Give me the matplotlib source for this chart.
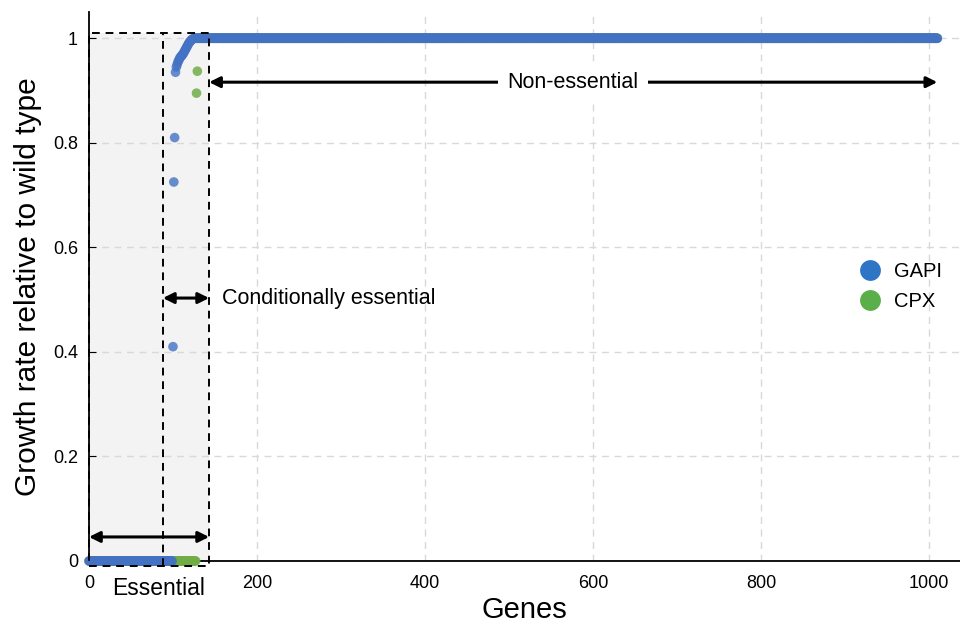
import numpy as np
import matplotlib
matplotlib.use("Agg")
import matplotlib.pyplot as plt
from matplotlib.patches import Rectangle
from matplotlib.lines import Line2D

plt.rcParams["font.family"] = ["Liberation Sans", "DejaVu Sans"]

# ── Data (genes sorted by growth rate) ──
N_GENES = 1011

GAPI_N_ZERO = 100
GAPI_TRANSITION = [0.41, 0.725, 0.81, 0.935, 0.945, 0.950, 0.955, 0.958,
                   0.962, 0.964, 0.966, 0.968, 0.970, 0.973, 0.976, 0.979,
                   0.982, 0.985, 0.988, 0.991, 0.993, 0.995, 0.997, 0.998,
                   0.999]

CPX_N_ZERO = 128
CPX_TRANSITION = [0.895, 0.937]

X_TICKS = [0, 200, 400, 600, 800, 1000]
Y_TICKS = [0, 0.2, 0.4, 0.6, 0.8, 1.0]
Y_TICKLABELS = ["0", "0.2", "0.4", "0.6", "0.8", "1"]

# region boundaries (gene index)
ESSENTIAL_END = 88
COND_END = 143
NONESS_END = 1010

BLUE_PT = "#4472C4"
GREEN_PT = "#70AD47"
BLUE_LEG = "#2E75C6"
GREEN_LEG = "#5BAF4A"


def build_series(n_zero, transition, n_total):
    n_one = n_total - n_zero - len(transition)
    y = np.concatenate([np.zeros(n_zero), np.array(transition), np.ones(n_one)])
    return np.arange(n_total), y


gx, gy = build_series(GAPI_N_ZERO, GAPI_TRANSITION, N_GENES)
cx, cy = build_series(CPX_N_ZERO, CPX_TRANSITION, N_GENES)

fig = plt.figure(figsize=(9.6, 6.28), dpi=100)
ax = fig.add_axes([0.0927, 0.1067, 0.9073, 0.874])
ax.set_xlim(0, 1037)
ax.set_ylim(0, 1.05)

# shaded region
ax.add_patch(Rectangle((0, -0.01), COND_END, 1.02, facecolor="#f3f3f3",
                       edgecolor="none", zorder=0))

# grid
for xv in X_TICKS[1:]:
    ax.axvline(xv, color="#d9d9d9", lw=1.0, ls=(0, (5, 4)), zorder=0.5)
for yv in Y_TICKS[1:]:
    ax.axhline(yv, color="#d9d9d9", lw=1.0, ls=(0, (5, 4)), zorder=0.5)

# points
ax.scatter(cx, cy, s=48, color=GREEN_PT, alpha=0.85, edgecolors="none",
           zorder=3, clip_on=False)
ax.scatter(gx, gy, s=48, color=BLUE_PT, alpha=0.8, edgecolors="none",
           zorder=4, clip_on=False)

# dashed boxes
ax.add_patch(Rectangle((0, -0.01), COND_END, 1.02, facecolor="none",
                       edgecolor="black", lw=1.4, ls=(0, (4, 3)), zorder=5,
                       clip_on=False))
ax.plot([ESSENTIAL_END, ESSENTIAL_END], [-0.01, 1.01], color="black", lw=1.4,
        ls=(0, (4, 3)), zorder=5, clip_on=False)

# arrows
arrow_kw = dict(arrowstyle="<|-|>", color="black", lw=2.2,
                mutation_scale=16, shrinkA=0, shrinkB=0)
ax.annotate("", xy=(0, 0.046), xytext=(COND_END, 0.046),
            arrowprops=arrow_kw, zorder=6)
ax.annotate("", xy=(ESSENTIAL_END, 0.503), xytext=(COND_END, 0.503),
            arrowprops=arrow_kw, zorder=6)
ax.annotate("", xy=(COND_END, 0.916), xytext=(NONESS_END, 0.916),
            arrowprops=arrow_kw, zorder=6)

ax.text(83, -0.053, "Essential", fontsize=16.5, ha="center", va="center",
        zorder=7)
ax.text(158, 0.503, "Conditionally essential", fontsize=15.5, ha="left",
        va="center", zorder=7)
ax.text(576, 0.916, "Non-essential", fontsize=15.5, ha="center", va="center",
        zorder=7, bbox=dict(facecolor="white", edgecolor="none", pad=7))

# legend
legend_els = [
    Line2D([0], [0], marker="o", color="none", markerfacecolor=BLUE_LEG,
           markeredgecolor="none", markersize=15, label="GAPI"),
    Line2D([0], [0], marker="o", color="none", markerfacecolor=GREEN_LEG,
           markeredgecolor="none", markersize=15, label="CPX"),
]
ax.legend(handles=legend_els, loc="center left", bbox_to_anchor=(0.853, 0.5),
          frameon=False, fontsize=14.5, handletextpad=0.2, labelspacing=0.55)

# axes style
for side in ["top", "right"]:
    ax.spines[side].set_visible(False)
ax.spines["left"].set_linewidth(1.3)
ax.spines["bottom"].set_linewidth(1.3)
ax.set_xticks(X_TICKS)
ax.set_yticks(Y_TICKS)
ax.set_yticklabels(Y_TICKLABELS)
ax.tick_params(axis="y", direction="in", length=5, labelsize=13, pad=8)
ax.tick_params(axis="x", length=0, labelsize=13, pad=10)

ax.set_xlabel("Genes", fontsize=21, labelpad=3)
ax.set_ylabel("Growth rate relative to wild type", fontsize=21.5, labelpad=8)

fig.savefig("out.png", dpi=100, facecolor="white")
plt.close(fig)
